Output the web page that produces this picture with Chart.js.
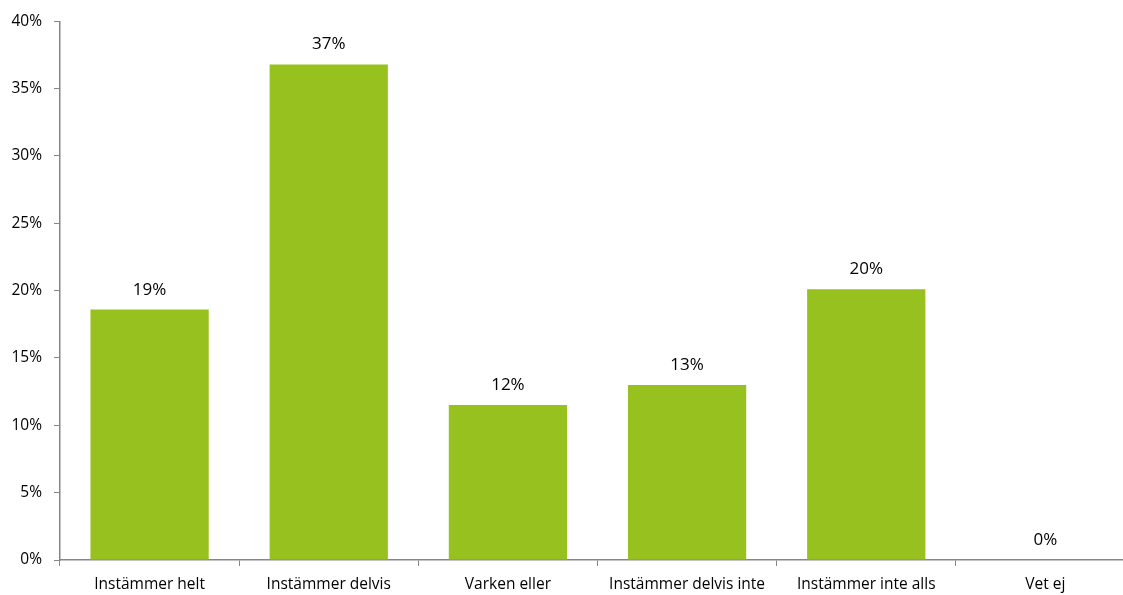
<!DOCTYPE html>
<html>
<head>
<meta charset="utf-8">
<script src="https://cdn.jsdelivr.net/npm/chart.js@4"></script>
<style>
  html,body{margin:0;padding:0;background:#fff;overflow:hidden;}
  #wrap{width:1140px;height:595px;}
</style>
</head>
<body>
<div id="wrap"><canvas id="chart"></canvas></div>
<script>
// Data
const categories = ['Instämmer helt','Instämmer delvis','Varken eller','Instämmer delvis inte','Instämmer inte alls','Vet ej'];
const shares = [18.6, 36.8, 11.5, 13.0, 20.1, 0];
const yTicks = [0,5,10,15,20,25,30,35,40];

const FONT = '"Open Sans", "Noto Sans", sans-serif';
const axisGray = '#868686';

// Labels above the bars
const barLabels = {
  id:'barLabels',
  afterDatasetsDraw(chart){
    const ctx=chart.ctx;
    const meta=chart.getDatasetMeta(0);
    ctx.save();
    ctx.font='17px '+FONT;
    ctx.fillStyle='#000';
    ctx.textAlign='center';
    ctx.textBaseline='alphabetic';
    meta.data.forEach((bar,i)=>{
      ctx.fillText(Math.round(shares[i])+'%', bar.x, bar.y-15);
    });
    ctx.restore();
  }
};

const ctx=document.getElementById('chart').getContext('2d');
new Chart(ctx,{
  type:'bar',
  data:{labels:categories, datasets:[{data:shares, backgroundColor:'#97c11f', borderWidth:0}]},
  options:{
    responsive:true, maintainAspectRatio:false, animation:false,
    layout:{padding:{top:18,right:5,left:0,bottom:0}},
    plugins:{legend:{display:false}, tooltip:{enabled:false}},
    datasets:{bar:{categoryPercentage:1, barPercentage:0.66}},
    scales:{
      x:{
        offset:true,
        grid:{display:true, drawOnChartArea:false, drawTicks:true, tickLength:6, color:axisGray, offset:true},
        border:{color:axisGray, width:1.5},
        ticks:{color:'#000', font:{family:FONT, size:15.5}, padding:9, maxRotation:0, autoSkip:false},
        afterFit(s){s.height=35;}
      },
      y:{
        min:0, max:40,
        afterBuildTicks(s){s.ticks=yTicks.map(v=>({value:v}));},
        grid:{display:true, drawOnChartArea:false, drawTicks:true, tickLength:6, color:axisGray},
        border:{color:axisGray, width:1.5},
        ticks:{color:'#000', font:{family:FONT, size:15.5}, padding:12, callback:v=>v+'%'},
        afterFit(s){s.width=60;}
      }
    }
  },
  plugins:[barLabels]
});
</script>
</body>
</html>
